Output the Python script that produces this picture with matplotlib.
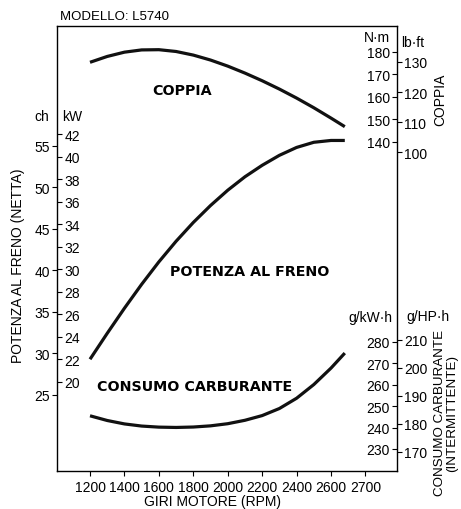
import matplotlib
matplotlib.use("Agg")
import matplotlib.pyplot as plt

plt.rcParams['font.family'] = ['Liberation Sans', 'DejaVu Sans']
plt.rcParams['font.size'] = 10

# Dati
giri = [1200, 1300, 1400, 1500, 1600, 1700, 1800, 1900, 2000, 2100, 2200, 2300, 2400, 2500, 2600, 2680]
coppia_nm = [175.4, 178.0, 179.9, 180.9, 181.0, 180.2, 178.6, 176.4, 173.7, 170.6, 167.2, 163.5, 159.5, 155.2, 150.6, 146.8]
potenza_ch = [29.3, 32.42, 35.44, 38.32, 41.02, 43.50, 45.76, 47.80, 49.64, 51.26, 52.64, 53.84, 54.79, 55.41, 55.63, 55.63]
consumo_gkwh = [245.5, 243.3, 241.7, 240.7, 240.2, 240.05, 240.25, 240.8, 241.8, 243.4, 245.6, 248.9, 253.7, 260.1, 267.8, 274.8]

giri_ticks = [1200, 1400, 1600, 1800, 2000, 2200, 2400, 2600, 2800]
giri_labels = ["1200", "1400", "1600", "1800", "2000", "2200", "2400", "2600", "2700"]
ch_ticks = [25, 30, 35, 40, 45, 50, 55]
kw_ticks = [20, 22, 24, 26, 28, 30, 32, 34, 36, 38, 40, 42]
nm_ticks = [140, 150, 160, 170, 180]
lbft_ticks = [100, 110, 120, 130]
gkwh_ticks = [230, 240, 250, 260, 270, 280]
ghph_ticks = [170, 180, 190, 200, 210]

fig = plt.figure(figsize=(4.61, 5.10), dpi=100)
ax = fig.add_axes([0.1243, 0.0745, 0.7368, 0.872])
ax.set_xlim(1010, 2983)
ax.set_ylim(15.85, 69.37)


def asse_gemello(lim, ticks, lato_sinistro, pos):
    a = ax.twinx()
    a.set_ylim(*lim)
    for s in a.spines.values():
        s.set_visible(False)
    if lato_sinistro:
        a.yaxis.tick_left()
        a.spines['left'].set_position(('axes', pos))
    else:
        a.yaxis.tick_right()
        a.spines['right'].set_position(('axes', pos))
    a.set_yticks(ticks)
    a.tick_params(axis='y', direction='out', length=3.5, width=0.8, pad=1.5, labelsize=10)
    return a


ax_kw = asse_gemello((12.10, 51.56), kw_ticks, False, 0)
ax_nm = asse_gemello((-6.2, 191.4), nm_ticks, True, 1)
ax_lb = asse_gemello((-6.3, 141.9), lbft_ticks, False, 1)
ax_gk = asse_gemello((219.7, 427.5), gkwh_ticks, True, 1)
ax_gh = asse_gemello((163.2, 322.0), ghph_ticks, False, 1)

ax.set_xticks(giri_ticks)
ax.set_xticklabels(giri_labels)
ax.set_yticks(ch_ticks)
ax.tick_params(direction='out', length=3.5, width=0.8, pad=1.5, labelsize=10)
ax.tick_params(axis='x', pad=3)
for s in ax.spines.values():
    s.set_linewidth(1.0)

# Curve
ax.plot(giri, potenza_ch, color='#111111', lw=2.3, solid_capstyle='butt')
ax_nm.plot(giri, coppia_nm, color='#111111', lw=2.3, solid_capstyle='butt')
ax_gk.plot(giri, consumo_gkwh, color='#111111', lw=2.3, solid_capstyle='butt')

# Etichette delle curve
ax.text(0.367, 0.857, "COPPIA", transform=ax.transAxes, ha='center', va='center',
        fontsize=10.3, fontweight='bold', family=['DejaVu Sans'])
ax.text(0.567, 0.45, "POTENZA AL FRENO", transform=ax.transAxes, ha='center', va='center',
        fontsize=10.3, fontweight='bold', family=['DejaVu Sans'])
ax.text(0.405, 0.191, "CONSUMO CARBURANTE", transform=ax.transAxes, ha='center', va='center',
        fontsize=10.3, fontweight='bold', family=['DejaVu Sans'])

# Unità
fig.text(42 / 461, 1 - 117 / 510, "ch", ha='center', va='center')
fig.text(72 / 461, 1 - 117 / 510, "kW", ha='center', va='center')
fig.text(377 / 461, 1 - 38 / 510, "N·m", ha='center', va='center')
fig.text(413 / 461, 1 - 43 / 510, "lb·ft", ha='center', va='center')
fig.text(370 / 461, 1 - 318 / 510, "g/kW·h", ha='center', va='center')
fig.text(428 / 461, 1 - 317 / 510, "g/HP·h", ha='center', va='center')

# Titoli degli assi
fig.text(18 / 461, 1 - 266 / 510, "POTENZA AL FRENO (NETTA)", rotation=90,
         ha='center', va='center')
fig.text(440 / 461, 1 - 100 / 510, "COPPIA", rotation=90,
         ha='center', va='center')
fig.text(446 / 461, 1 - 413 / 510, "CONSUMO CARBURANTE\n(INTERMITTENTE)", rotation=90,
         ha='center', va='center', linespacing=1.05, fontsize=9.6)
fig.text(212 / 461, 1 - 502 / 510, "GIRI MOTORE (RPM)", ha='center', va='center')
fig.text(60 / 461, 1 - 17 / 510, "MODELLO: L5740", ha='left', va='center', fontsize=9.5)

fig.savefig("out.png", dpi=100)
